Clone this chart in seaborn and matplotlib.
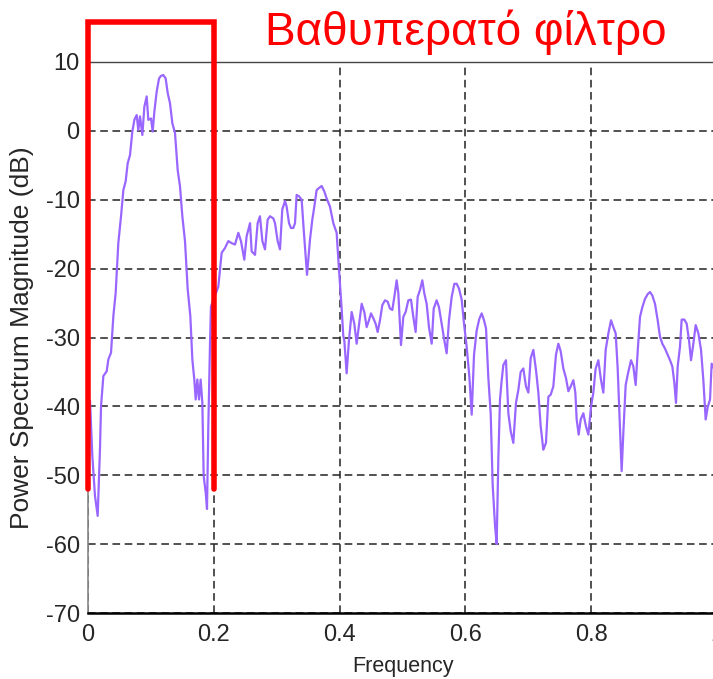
import matplotlib
matplotlib.use("Agg")
import matplotlib.pyplot as plt
import seaborn as sns
import pandas as pd

# ── data (normalised frequency, dB) ────────────────────────────────────
freq = [
    0.0032, 0.0069, 0.0111, 0.0154, 0.0191, 0.0207, 0.0244, 0.0297, 0.0323, 0.0366,
    0.0403, 0.0440, 0.0482, 0.0525, 0.0562, 0.0599, 0.0631, 0.0668, 0.0705, 0.0737,
    0.0774, 0.0800, 0.0827, 0.0864, 0.0896, 0.0933, 0.0959, 0.1002, 0.1028, 0.1055,
    0.1092, 0.1129, 0.1161, 0.1198, 0.1235, 0.1267, 0.1304, 0.1341, 0.1383, 0.1426,
    0.1463, 0.1500, 0.1542, 0.1585, 0.1627, 0.1659, 0.1690, 0.1712, 0.1738, 0.1765,
    0.1791, 0.1818, 0.1839, 0.1871, 0.1892, 0.1913, 0.1940, 0.1955,
    0.2072, 0.2125, 0.2178, 0.2231, 0.2284, 0.2337, 0.2390, 0.2432, 0.2485, 0.2522,
    0.2576, 0.2602, 0.2655, 0.2697, 0.2734, 0.2772, 0.2814, 0.2856, 0.2893, 0.2946,
    0.2973, 0.3015, 0.3052, 0.3089, 0.3132, 0.3158, 0.3196, 0.3227, 0.3264, 0.3291,
    0.3317, 0.3355, 0.3397, 0.3429, 0.3482, 0.3529, 0.3566, 0.3598, 0.3635, 0.3672,
    0.3715, 0.3757, 0.3794, 0.3847, 0.3900, 0.3953, 0.3990, 0.4033, 0.4059,
    0.4075, 0.4112, 0.4149, 0.4192, 0.4234, 0.4271, 0.4308, 0.4351, 0.4393, 0.4430,
    0.4467, 0.4499, 0.4536, 0.4573, 0.4605, 0.4642, 0.4679, 0.4722, 0.4764, 0.4801,
    0.4838, 0.4870, 0.4907, 0.4934, 0.4976, 0.5013, 0.5050, 0.5093, 0.5135, 0.5172,
    0.5209, 0.5241, 0.5278, 0.5315, 0.5347, 0.5384, 0.5421, 0.5464, 0.5496, 0.5543,
    0.5580, 0.5623, 0.5665, 0.5702, 0.5739, 0.5782, 0.5824, 0.5861, 0.5898, 0.5941,
    0.5978, 0.6020, 0.6063, 0.6100, 0.6137, 0.6179, 0.6221, 0.6259, 0.6296, 0.6328,
    0.6365, 0.6402, 0.6434, 0.6471, 0.6497, 0.6524, 0.6550, 0.6577, 0.6603, 0.6645,
    0.6683, 0.6720, 0.6762, 0.6804, 0.6842, 0.6879, 0.6921, 0.6963, 0.7001, 0.7038,
    0.7080, 0.7122, 0.7160, 0.7197, 0.7239, 0.7281, 0.7319, 0.7356, 0.7398, 0.7440,
    0.7478, 0.7515, 0.7557, 0.7599, 0.7637, 0.7674, 0.7716, 0.7748, 0.7769, 0.7801,
    0.7833, 0.7875, 0.7917, 0.7955, 0.7997, 0.8034, 0.8071, 0.8114, 0.8156, 0.8193,
    0.8230, 0.8273, 0.8315, 0.8352, 0.8389, 0.8421, 0.8458, 0.8484, 0.8511, 0.8548,
    0.8590, 0.8633, 0.8670, 0.8707, 0.8739, 0.8776, 0.8813, 0.8855, 0.8898, 0.8935,
    0.8972, 0.9014, 0.9057, 0.9094, 0.9131, 0.9173, 0.9216, 0.9253, 0.9290, 0.9322,
    0.9348, 0.9375, 0.9412, 0.9438, 0.9481, 0.9518, 0.9555, 0.9587, 0.9624, 0.9661,
    0.9704, 0.9746, 0.9783, 0.9820, 0.9852, 0.9889, 0.9915, 0.9980,
]
power_db = [
    -39.2, -47.2, -53.0, -55.9, -46.0, -40.0, -35.6, -34.9, -33.2, -32.2,
    -26.9, -23.5, -16.3, -12.4, -8.6, -7.3, -4.7, -3.5, -0.1, 1.6,
    2.3, 0.1, 2.1, -0.6, 3.5, 5.0, 1.6, 1.8, -0.1, 2.8,
    5.7, 7.6, 8.0, 8.1, 7.6, 5.5, 4.0, 1.1, -0.3, -5.7,
    -8.1, -12.4, -16.0, -23.0, -26.9, -33.2, -36.1, -39.0, -36.1, -39.0,
    -36.1, -39.5, -50.1, -52.5, -54.9, -42.8, -30.8, -25.5,
    -22.6, -17.7, -17.0, -16.0, -16.3, -16.5, -14.8, -16.0, -18.7, -15.3,
    -13.4, -17.5, -18.0, -13.4, -12.4, -16.0, -17.2, -12.9, -12.4, -12.7,
    -13.4, -16.0, -17.2, -11.4, -10.2, -11.0, -13.4, -14.1, -14.1, -13.4,
    -9.3, -9.5, -10.0, -14.3, -20.9, -15.8, -12.9, -11.0, -8.6, -8.3,
    -8.0, -8.8, -9.8, -11.0, -13.4, -14.8, -20.1, -25.9, -29.8,
    -30.4, -35.2, -30.4, -26.3, -28.0, -30.9, -28.2, -25.1, -26.3, -28.5,
    -27.5, -26.5, -27.2, -28.0, -29.2, -27.5, -25.3, -24.6, -24.8, -25.8,
    -26.0, -24.1, -21.7, -23.6, -31.1, -27.0, -26.3, -24.6, -24.5, -27.0,
    -29.2, -24.1, -23.1, -21.7, -23.6, -25.1, -28.5, -30.9, -25.8, -24.6,
    -25.6, -28.0, -30.4, -32.3, -27.5, -24.1, -22.2, -22.2, -22.9, -24.5,
    -28.0, -31.3, -35.7, -41.2, -32.5, -29.0, -27.3, -26.5, -27.5, -28.7,
    -35.9, -41.0, -51.5, -57.3, -60.0, -47.5, -39.0, -36.2, -34.0, -33.3,
    -41.0, -43.6, -45.3, -39.5, -37.6, -35.0, -34.5, -37.1, -38.0, -33.0,
    -31.8, -34.7, -38.0, -42.9, -46.3, -45.3, -38.6, -38.3, -37.1, -32.5,
    -30.9, -32.0, -34.5, -35.9, -37.8, -37.1, -36.2, -38.0, -41.9, -44.1,
    -41.9, -41.0, -42.9, -44.1, -40.1, -38.0, -34.5, -33.3, -36.2, -38.0,
    -31.8, -29.4, -27.5, -28.5, -29.4, -34.5, -43.4, -49.4, -43.8, -36.9,
    -35.0, -33.3, -34.2, -36.9, -32.0, -27.0, -25.6, -24.4, -23.7, -23.4,
    -23.9, -25.1, -27.5, -29.9, -30.9, -31.6, -32.5, -33.3, -34.2, -36.6,
    -39.5, -34.2, -31.3, -27.4, -27.4, -28.0, -30.4, -33.3, -30.9, -28.2,
    -29.4, -31.8, -36.2, -41.9, -40.1, -39.0, -33.8, -35.0,
]

x_ticks = [0, 0.2, 0.4, 0.6, 0.8, 1]
x_ticklabels = ["0", "0.2", "0.4", "0.6", "0.8", "1"]
y_ticks = [-70, -60, -50, -40, -30, -20, -10, 0, 10]

title_text = "Βαθυπερατό φίλτρο"
band_left, band_right = 0.0, 0.2       # low-pass pass band marked in red
band_bottom, band_top = -52.0, 15.8

df = pd.DataFrame({"Frequency": freq, "Power": power_db})

# ── figure ────────────────────────────────────────────────────────────
sns.set_style("white")
plt.rcParams["axes.unicode_minus"] = False
sans = ["Liberation Sans", "DejaVu Sans"]

fig = plt.figure(figsize=(7.13, 6.79), dpi=100)
# axes run a little past the right edge: the reference is cropped at x = 1
ax = fig.add_axes([88 / 713, 66 / 679, 629 / 713, 551 / 679])

sns.lineplot(data=df, x="Frequency", y="Power", ax=ax, color="#9966ff",
             linewidth=1.6, sort=False, estimator=None)

ax.set_xlim(0, 1)
ax.set_ylim(-70, 10)
ax.set_xticks(x_ticks)
ax.set_xticklabels(x_ticklabels, family=sans, fontsize=17)
ax.set_yticks(y_ticks)
ax.set_yticklabels([str(v) for v in y_ticks], family=sans, fontsize=17)
ax.tick_params(direction="in", length=5, width=1, color="black")
ax.tick_params(axis="x", pad=8)
ax.tick_params(axis="y", pad=6)

ax.grid(True, color="#222222", linestyle=(0, (5, 3)), linewidth=1.1)
ax.set_axisbelow(True)

for side in ["top", "right"]:
    ax.spines[side].set_color("#444444")
    ax.spines[side].set_linewidth(1)
ax.spines["left"].set_color("#888888")
ax.spines["left"].set_linewidth(1.2)
ax.spines["bottom"].set_color("black")
ax.spines["bottom"].set_linewidth(1.8)

ax.set_xlabel("Frequency", family=sans, fontsize=15.5, labelpad=7)
ax.set_ylabel("Power Spectrum Magnitude (dB)", family=sans, fontsize=19, labelpad=8)

# red pass-band bracket and caption
ax.plot([band_left, band_left, band_right, band_right],
        [band_bottom, band_top, band_top, band_bottom],
        color="#ff0000", linewidth=4, clip_on=False, solid_joinstyle="miter", zorder=5)
fig.text(466 / 713, 1 - 45 / 679, title_text, color="#ff0000", fontsize=33,
         family=sans, ha="center", va="baseline")

fig.savefig("out.png", dpi=100)
